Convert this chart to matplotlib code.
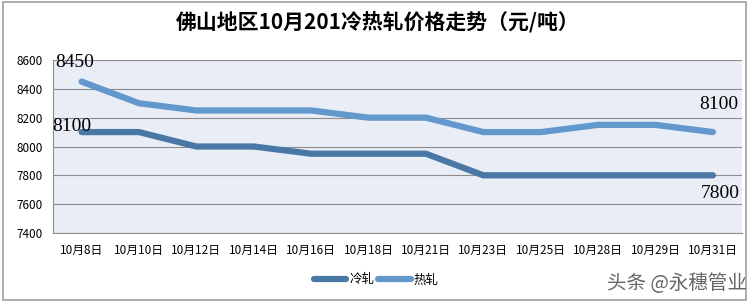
import matplotlib.pyplot as plt
from matplotlib.patches import Rectangle

plt.rcParams['font.family'] = ['Noto Sans CJK SC', 'DejaVu Sans']

dates = ['10月8日', '10月10日', '10月12日', '10月14日', '10月16日', '10月18日',
         '10月21日', '10月23日', '10月25日', '10月28日', '10月29日', '10月31日']
cold = [8100, 8100, 8000, 8000, 7950, 7950, 7950, 7800, 7800, 7800, 7800, 7800]
hot = [8450, 8300, 8250, 8250, 8250, 8200, 8200, 8100, 8100, 8150, 8150, 8100]
yticks = [7400, 7600, 7800, 8000, 8200, 8400, 8600]

fig = plt.figure(figsize=(7.56, 3.03), dpi=100)
fig.patch.set_facecolor('white')
# outer frame
fig.add_artist(Rectangle((0.004, 0.01), 0.983, 0.985, transform=fig.transFigure,
                         fill=False, edgecolor='#a0a0a0', lw=1.2))

ax = fig.add_axes([0.070, 0.231, 0.911, 0.571])
ax.set_facecolor('#e9eef6')
x = list(range(len(dates)))
ax.plot(x, cold, color='#4a78a6', lw=4.5, solid_capstyle='round', label='冷轧', zorder=3)
ax.plot(x, hot, color='#6298cc', lw=4.5, solid_capstyle='round', label='热轧', zorder=3)

ax.set_xlim(-0.5, len(dates) - 0.5)
ax.set_ylim(7400, 8600)
ax.set_yticks(yticks)
ax.set_xticks(x)
ax.set_xticklabels(dates, fontsize=8.5)
ax.tick_params(axis='y', labelsize=8.5, length=0, pad=7)
ax.tick_params(axis='x', length=0, pad=8)
ax.yaxis.grid(True, color='#8c8c8c', lw=0.8)
ax.set_axisbelow(True)
for s in ['top', 'right']:
    ax.spines[s].set_visible(False)
for s in ['left', 'bottom']:
    ax.spines[s].set_color('#8c8c8c')

lab = dict(family='Liberation Serif', fontsize=14, color='black')
ax.annotate(str(hot[0]), (x[0], hot[0]), xytext=(-19, 8), textcoords='offset points',
            ha='left', va='bottom', **lab)
ax.annotate(str(cold[0]), (x[0], cold[0]), xytext=(-21, 4), textcoords='offset points',
            ha='left', va='center', **lab)
ax.annotate(str(hot[-1]), (x[-1], hot[-1]), xytext=(4, 14), textcoords='offset points',
            ha='center', va='bottom', **lab)
ax.annotate(str(cold[-1]), (x[-1], cold[-1]), xytext=(5, -7), textcoords='offset points',
            ha='center', va='top', **lab)

fig.suptitle('佛山地区10月201冷热轧价格走势（元/吨）', x=0.5, y=0.965,
             fontsize=15, fontweight='bold')

fig.legend(loc='center', bbox_to_anchor=(0.498, 0.076), ncol=2, frameon=False,
           fontsize=9, handlelength=2.6, columnspacing=0.3, handletextpad=0.25)

fig.text(0.896, 0.066, '头条 @永穗管业', ha='center', va='center', fontsize=14,
         color='#666666')

fig.savefig('out.png', dpi=100)
